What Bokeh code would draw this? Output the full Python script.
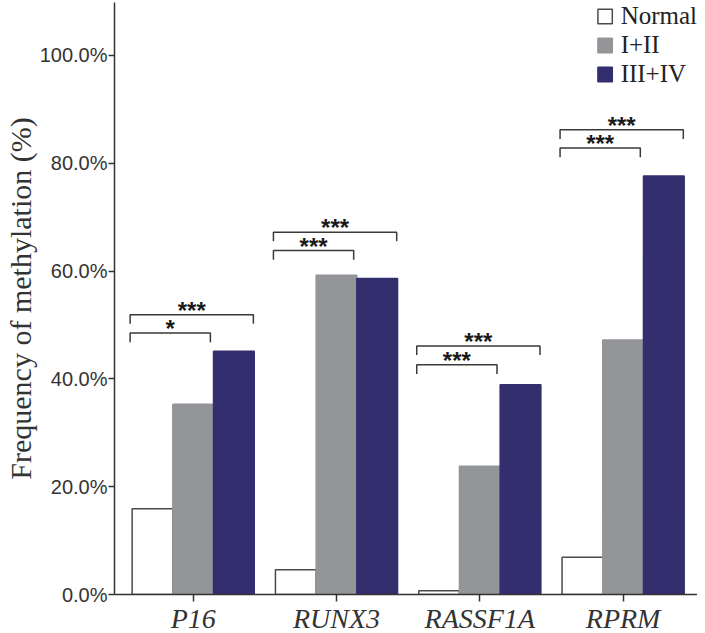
from bokeh.plotting import figure
from bokeh.models import (Range1d, FixedTicker, PrintfTickFormatter, ColumnDataSource,
                          Legend, LegendItem)
from bokeh.core.properties import value
from bokeh.embed import file_html
from bokeh.resources import INLINE

genes = ["P16", "RUNX3", "RASSF1A", "RPRM"]
groups = ["Normal", "I+II", "III+IV"]
normal = [15.9, 4.6, 0.7, 6.9]
stage12 = [35.3, 59.2, 23.8, 47.2]
stage34 = [45.1, 58.6, 38.9, 77.6]
yticks = [0, 20, 40, 60, 80, 100]

# significance annotations (bracket level in %)
sig_low_level = [48.5, 63.8, 42.6, 82.8]
sig_high_level = [51.9, 67.2, 46.1, 86.2]
sig_low_text = ["*", "***", "***", "***"]
sig_high_text = ["***", "***", "***", "***"]

fills = ["white", "#939598", "#332e6e"]
lines = ["#4a4a4a", "#939598", "#332e6e"]
offsets = [-0.284, 0.0, 0.284]
bar_w = 0.284

xs = list(range(len(genes)))

p = figure(frame_width=583, frame_height=592, output_backend="svg", toolbar_location=None,
           x_range=Range1d(-0.549, 3.519), y_range=Range1d(0, 109.8),
           min_border_left=106, min_border_right=0, min_border_top=2, min_border_bottom=0)
p.background_fill_color = "white"
p.border_fill_color = "white"
p.outline_line_color = None
p.xgrid.visible = False
p.ygrid.visible = False

renderers = []
for vals, f, lc, off in zip([normal, stage12, stage34], fills, lines, offsets):
    src = ColumnDataSource(dict(x=[x + off for x in xs], top=vals))
    r = p.vbar(x="x", top="top", width=bar_w, bottom=0, source=src,
               fill_color=f, line_color=lc, line_width=1.5)
    renderers.append(r)

# brackets
left_off, low_right_off, high_right_off, drop = -0.44, 0.12, 0.42, 1.7
bx, by = [], []
for i, x in enumerate(xs):
    yl = sig_low_level[i]
    bx.append([x + left_off, x + left_off, x + low_right_off, x + low_right_off])
    by.append([yl - drop, yl, yl, yl - drop])
    yh = sig_high_level[i]
    bx.append([x + left_off, x + left_off, x + high_right_off, x + high_right_off])
    by.append([yh - drop, yh, yh, yh - drop])
p.multi_line(xs=bx, ys=by, line_color="#3a3a3a", line_width=1.5)

tx, ty, tt = [], [], []
for i, x in enumerate(xs):
    tx.append(x + (left_off + low_right_off) / 2)
    ty.append(sig_low_level[i] + 0.8)
    tt.append(sig_low_text[i])
    tx.append(x + (left_off + high_right_off) / 2)
    ty.append(sig_high_level[i] + 0.8)
    tt.append(sig_high_text[i])
p.text(x=tx, y=ty, text=tt, text_align="center", text_baseline="middle",
       text_font=value("Liberation Sans"), text_font_size="24px",
       text_font_style="bold", text_color="#1a1a1a")

# axes
for ax in (p.xaxis[0], p.yaxis[0]):
    ax.axis_line_width = 1.5
    ax.axis_line_color = "#333333"
    ax.major_tick_line_color = "#333333"
    ax.major_tick_line_width = 1.5
    ax.minor_tick_line_color = None
    ax.major_tick_in = 0
    ax.major_label_text_color = "#333333"

p.xaxis.ticker = FixedTicker(ticks=xs)
p.xaxis.major_label_overrides = {i: g for i, g in enumerate(genes)}
p.xaxis.major_tick_out = 7
p.xaxis.major_label_standoff = 1
p.xaxis.major_label_text_font = "Times New Roman"
p.xaxis.major_label_text_font_style = "italic"
p.xaxis.major_label_text_font_size = "28px"

p.yaxis.ticker = FixedTicker(ticks=yticks)
p.yaxis.formatter = PrintfTickFormatter(format="%.1f%%")
p.yaxis.major_tick_out = 6
p.yaxis.major_label_standoff = 1
p.yaxis.major_label_text_font = "Liberation Sans"
p.yaxis.major_label_text_font_size = "20px"
p.yaxis.axis_label = "Frequency of methylation (%)"
p.yaxis.axis_label_text_font = "Times New Roman"
p.yaxis.axis_label_text_font_style = "normal"
p.yaxis.axis_label_text_font_size = "30px"
p.yaxis.axis_label_text_color = "#333333"
p.yaxis.axis_label_standoff = 0

legend = Legend(items=[LegendItem(label=g, renderers=[r]) for g, r in zip(groups, renderers)],
                location="top_right", margin=0, padding=0, spacing=1,
                glyph_width=18, glyph_height=18, label_standoff=7,
                label_text_font="Times New Roman", label_text_font_size="25px",
                label_text_color="#222222", border_line_color=None,
                background_fill_alpha=0)
p.add_layout(legend)

open("out.html", "w").write(file_html(p, INLINE))
